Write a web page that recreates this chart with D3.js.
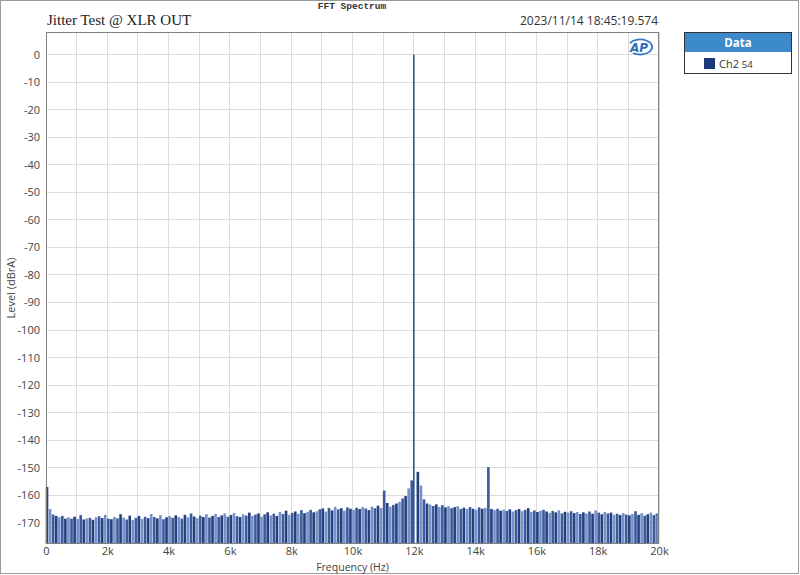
<!DOCTYPE html>
<html><head><meta charset="utf-8">
<script src="https://cdn.jsdelivr.net/npm/d3@7"></script>
<style>body{margin:0;background:#fff}svg{display:block}</style>
</head><body>
<script>
// ---- data ----
const freqStepHz = 100; // bin spacing of values below (0 .. 20 kHz)
const levels = [
-157,-165,-167,-167.5,-168,-167.5,-168.5,-168,-168.5,-167.8,
-168.6,-167.2,-168.8,-168.4,-168.2,-168.9,-168,-167.6,-168.3,-167.1,
-168.5,-168.7,-167.9,-168.4,-166.9,-168.1,-168.8,-167.4,-169,-168.2,
-167.5,-168.6,-167.8,-168.3,-166.8,-167.9,-168.4,-167.2,-168.7,-168,
-167.6,-168.2,-167.3,-167.9,-168.5,-167.1,-168,-166.6,-167.7,-168.3,
-167.4,-167.9,-166.9,-168.1,-167.5,-166.8,-167.9,-167.3,-166.6,-167.8,
-167.2,-166.5,-167.6,-167.9,-166.9,-167.4,-166.3,-167.5,-167.0,-166.6,
-167.8,-166.9,-166.2,-167.3,-166.7,-167.5,-166.1,-166.8,-165.6,-167.1,
-166.4,-165.9,-166.7,-165.4,-166.5,-166.0,-165.3,-166.2,-165.8,-165.1,
-164.8,-165.9,-164.6,-165.5,-164.2,-165.1,-164.7,-165.6,-164.4,-164.9,
-165.3,-164.5,-165.0,-164.3,-164.8,-165.4,-164.1,-164.7,-163.8,-164.6,
-158.3,-162.8,-164.1,-163.5,-163.0,-162.4,-161.2,-160.3,-157.5,-154.6,
0,-151.5,-156.5,-161.5,-163.0,-163.4,-163.9,-163.3,-164.2,-163.6,
-164.4,-164.0,-164.7,-164.3,-164.0,-165.0,-164.5,-165.0,-164.3,-164.9,
-165.3,-164.4,-164.9,-164.6,-149.8,-165.0,-165.4,-164.9,-165.6,-165.2,
-165.7,-165.1,-165.9,-165.4,-165.0,-165.8,-165.3,-164.7,-166.0,-165.5,
-166.1,-165.6,-165.3,-165.9,-166.4,-165.7,-166.2,-165.5,-166.6,-166.0,
-166.3,-165.8,-166.5,-166.1,-166.8,-166.2,-166.6,-165.9,-166.7,-165.5,
-166.3,-166.9,-166.1,-166.6,-166.3,-167.1,-166.7,-167.2,-166.5,-167.0,
-167.3,-166.8,-165.8,-167.1,-166.5,-167.4,-166.9,-166.3,-167.2,-166.7,
-167.0
];
const yTicks = [0,-10,-20,-30,-40,-50,-60,-70,-80,-90,-100,-110,-120,-130,-140,-150,-160,-170];
const xTicks = [0,2000,4000,6000,8000,10000,12000,14000,16000,18000,20000];
const xGrid = d3.range(0, 20001, 1000);
const xTickLabels = ["0","2k","4k","6k","8k","10k","12k","14k","16k","18k","20k"];
const titleText = "Jitter Test @ XLR OUT";
const headerText = "FFT Spectrum";
const stampText = "2023/11/14 18:45:19.574";
const legendTitle = "Data";
const seriesName = "Ch2";
const seriesSuffix = "54";

// ---- layout ----
const W = 800, H = 575;
const m = {left:46, top:32, right:659, bottom:544};
const svg = d3.select("body").append("svg").attr("width",W).attr("height",H);

svg.append("rect").attr("x",0.5).attr("y",0.5).attr("width",W-2).attr("height",H-2)
  .attr("fill","#fff").attr("stroke","#9a9a9a");

const x = d3.scaleLinear().domain([0,20000]).range([m.left,m.right]);
const y = d3.scaleLinear().domain([8.2,-177.7]).range([m.top,m.bottom]);

// grid
const g = svg.append("g");
g.selectAll(".vg").data(xGrid).join("line")
  .attr("x1",d=>x(d)).attr("x2",d=>x(d)).attr("y1",m.top).attr("y2",m.bottom)
  .attr("stroke","#dcdcdc").attr("stroke-width",1).attr("shape-rendering","crispEdges");
g.selectAll(".hg").data(yTicks).join("line")
  .attr("x1",m.left).attr("x2",m.right).attr("y1",d=>y(d)).attr("y2",d=>y(d))
  .attr("stroke","#dcdcdc").attr("stroke-width",1).attr("shape-rendering","crispEdges");

// spectrum bars
const data = levels.map((v,i)=>({f:i*freqStepHz, v}));
const bw = (x(freqStepHz)-x(0));
svg.append("g").selectAll("rect").data(data.filter(d=>d.v<-100)).join("rect")
  .attr("x",d=>Math.min(x(d.f)-bw*0.1, m.right-bw*0.9))
  .attr("width",bw*0.86)
  .attr("y",d=>y(d.v))
  .attr("height",d=>m.bottom-y(d.v))
  .attr("fill",(d,i)=> (i%3===1) ? "#7690c8" : (i%3===2 ? "#3c5b9c" : "#23407f"));
// main tone line(s)
svg.append("g").selectAll("line").data(data.filter(d=>d.v>=-100)).join("line")
  .attr("x1",d=>x(d.f)).attr("x2",d=>x(d.f))
  .attr("y1",d=>y(d.v)).attr("y2",m.bottom)
  .attr("stroke","#33538f").attr("stroke-width",1.6);

// plot border
svg.append("rect").attr("x",m.left+0.5).attr("y",m.top+0.5)
  .attr("width",m.right-m.left-1).attr("height",m.bottom-m.top-1)
  .attr("fill","none").attr("stroke","#808080").attr("stroke-width",1);

// axes
const yAxis = d3.axisLeft(y).tickValues(yTicks).tickSize(0).tickPadding(6).tickFormat(d=>d);
const ya = svg.append("g").attr("transform",`translate(${m.left},0)`).call(yAxis);
ya.select(".domain").remove();
ya.selectAll("text").attr("font-family","'Open Sans', 'Noto Sans', sans-serif")
  .attr("font-size",11).attr("fill","#444");

const xAxis = d3.axisBottom(x).tickValues(xTicks).tickSize(0).tickPadding(3)
  .tickFormat((d,i)=>xTickLabels[i]);
const xa = svg.append("g").attr("transform",`translate(0,${m.bottom})`).call(xAxis);
xa.select(".domain").remove();
xa.selectAll("text").attr("font-family","'Open Sans', 'Noto Sans', sans-serif")
  .attr("font-size",11).attr("fill","#444");

// axis titles
svg.append("text").attr("x",(m.left+m.right)/2).attr("y",571).attr("text-anchor","middle")
  .attr("font-family","'Open Sans', 'Noto Sans', sans-serif").attr("font-size",10.5).attr("fill","#444")
  .text("Frequency (Hz)");
svg.append("text").attr("transform",`translate(15,${(m.top+m.bottom)/2}) rotate(-90)`)
  .attr("text-anchor","middle")
  .attr("font-family","'Open Sans', 'Noto Sans', sans-serif").attr("font-size",11).attr("fill","#444")
  .text("Level (dBrA)");

// titles
svg.append("text").attr("x",47).attr("y",25)
  .attr("font-family","'Liberation Serif', 'DejaVu Serif', serif").attr("font-size",15).attr("fill","#222")
  .text(titleText);
svg.append("text").attr("x",352).attr("y",9).attr("text-anchor","middle")
  .attr("font-family","'Liberation Mono', 'DejaVu Sans Mono', monospace").attr("font-size",9.5)
  .attr("font-weight","bold").attr("fill","#333").text(headerText);
svg.append("text").attr("x",658).attr("y",25).attr("text-anchor","end")
  .attr("font-family","'Open Sans', 'Noto Sans', sans-serif").attr("font-size",12).attr("fill","#333")
  .text(stampText);

// AP logo
const logo = svg.append("g").attr("transform","translate(640,47)");
logo.append("path").attr("d","M-7,6 A 12 7.5 0 1 0 -10,-4")
  .attr("fill","none").attr("stroke","#3a78c9").attr("stroke-width",1.8);
logo.append("text").attr("x",-1).attr("y",4.5).attr("text-anchor","middle")
  .attr("font-family","'DejaVu Sans', sans-serif").attr("font-style","italic").attr("font-weight","bold")
  .attr("font-size",12).attr("fill","#2f6cc0").text("AP");

// legend
const lg = svg.append("g").attr("transform","translate(684,32)");
lg.append("rect").attr("x",0.5).attr("y",0.5).attr("width",107).attr("height",41)
  .attr("fill","#fff").attr("stroke","#333");
lg.append("rect").attr("x",1).attr("y",1).attr("width",106).attr("height",19).attr("fill","#3d8acb");
lg.append("text").attr("x",54).attr("y",15).attr("text-anchor","middle")
  .attr("font-family","'Open Sans', 'Noto Sans', sans-serif").attr("font-weight","bold")
  .attr("font-size",11.5).attr("fill","#fff").text(legendTitle);
lg.append("rect").attr("x",20).attr("y",26).attr("width",11).attr("height",11).attr("fill","#1c3a7a");
lg.append("text").attr("x",35).attr("y",36)
  .attr("font-family","'Open Sans', 'Noto Sans', sans-serif").attr("font-size",11).attr("fill","#333")
  .text(seriesName + " ").append("tspan").attr("font-size",9.5).text(seriesSuffix);
</script>
</body></html>
